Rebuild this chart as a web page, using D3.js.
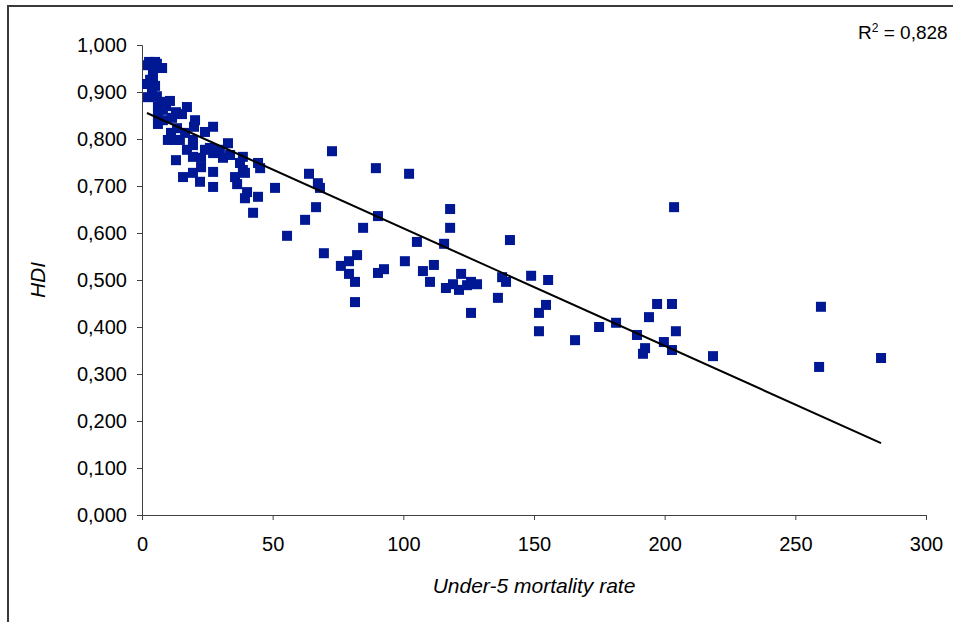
<!DOCTYPE html>
<html>
<head>
<meta charset="utf-8">
<script src="https://cdn.jsdelivr.net/npm/d3@7"></script>
<style>
  html, body { margin: 0; padding: 0; background: #fff; }
  svg { display: block; }
</style>
</head>
<body>
<svg id="chart" width="953" height="622"></svg>
<script>
// Under-5 mortality rate (per 1,000 live births) for each country
const mortality = [
  2.7, 5.0, 5.7, 7.7, 2.3, 4.2, 4.2, 3.1, 1.9, 5.0, 3.8, 2.3, 5.7, 6.1, 7.7, 10.7,
  9.2, 8.0, 17.2, 6.1, 6.1, 8.0, 11.5, 13.0, 15.3, 20.3, 19.9, 27.2, 24.1, 11.1,
  12.6, 14.5, 16.5, 9.9, 13.4, 19.5, 32.9, 24.1, 27.2, 29.8, 31.0, 17.2, 19.5,
  13.0, 19.5, 22.6, 22.6, 38.6, 37.5, 38.6, 44.4, 45.2, 15.7, 19.5, 22.2, 27.2,
  27.2, 35.6, 36.4, 39.4, 40.2, 39.4, 44.4, 42.5, 50.9, 33.7, 26.0,
  55.5, 62.4, 63.9, 66.6, 67.3, 68.1, 69.6, 72.7, 76.1, 79.2, 79.2, 81.5, 81.5,
  82.3, 84.6, 89.5, 90.3, 90.3, 92.6, 100.6, 102.2, 105.2, 107.5, 110.2, 111.7,
  115.6, 116.3, 117.9, 117.9, 119.0, 121.3, 122.1, 124.4, 125.9, 125.9, 128.2,
  136.2, 137.8, 139.3, 140.8, 148.9, 151.9, 151.9, 154.6, 155.4, 165.7, 174.9,
  181.4, 189.4, 191.7, 192.5, 194.0, 197.1, 199.7, 202.8, 202.8, 203.6, 204.3,
  218.5, 259.1, 259.8, 282.8
];

// Human Development Index for the same countries
const hdi = [
  0.964, 0.964, 0.960, 0.951, 0.957, 0.947, 0.934, 0.926, 0.917, 0.913, 0.900, 0.889, 0.891, 0.870, 0.879, 0.881,
  0.870, 0.862, 0.868, 0.851, 0.832, 0.840, 0.845, 0.857, 0.853, 0.840, 0.826, 0.826, 0.815, 0.813,
  0.798, 0.798, 0.813, 0.798, 0.823, 0.798, 0.791, 0.777, 0.770, 0.777, 0.760, 0.777, 0.787,
  0.755, 0.762, 0.760, 0.740, 0.762, 0.749, 0.734, 0.749, 0.738, 0.719, 0.728, 0.709, 0.730,
  0.698, 0.719, 0.704, 0.728, 0.687, 0.674, 0.677, 0.643, 0.696, 0.766, 0.781,
  0.594, 0.628, 0.726, 0.655, 0.706, 0.696, 0.557, 0.774, 0.530, 0.540, 0.513, 0.496, 0.453,
  0.553, 0.611, 0.738, 0.636, 0.515, 0.523, 0.540, 0.726, 0.581, 0.519, 0.496, 0.532,
  0.577, 0.483, 0.651, 0.611, 0.491, 0.479, 0.513, 0.489, 0.496, 0.430, 0.491,
  0.462, 0.506, 0.496, 0.585, 0.509, 0.430, 0.391, 0.447, 0.500, 0.372, 0.400,
  0.409, 0.383, 0.343, 0.355, 0.421, 0.449, 0.368, 0.351, 0.449, 0.655, 0.391,
  0.338, 0.315, 0.443, 0.334
];

// Linear trend: HDI = intercept + slope * mortality
const trendIntercept = 0.860;
const trendSlope = -0.0025;
const rSquaredText = "0,828";

const xTicks = [0, 50, 100, 150, 200, 250, 300];
const yTicks = [0, 0.1, 0.2, 0.3, 0.4, 0.5, 0.6, 0.7, 0.8, 0.9, 1.0];

const xTitle = "Under-5 mortality rate";
const yTitle = "HDI";

const svg = d3.select("#chart");
const font = "'Liberation Sans', Arial, sans-serif";
const fontSize = "20px";

const plot = { left: 142, right: 926, top: 45, bottom: 515 };

const x = d3.scaleLinear().domain([0, 300]).range([plot.left, plot.right]);
const y = d3.scaleLinear().domain([0, 1]).range([plot.bottom, plot.top]);

const locale = d3.formatLocale({ decimal: ",", thousands: ".", grouping: [3], currency: ["", ""] });
const fmtY = locale.format(".3f");

// Outer chart frame
svg.append("path")
  .attr("d", "M8,622 L8,6 L953,6")
  .attr("fill", "none")
  .attr("stroke", "#3a3a3a")
  .attr("stroke-width", 2);

// Axes
const yAxis = svg.append("g")
  .attr("transform", `translate(${plot.left},0)`)
  .call(d3.axisLeft(y).tickValues(yTicks).tickFormat(fmtY).tickSizeOuter(0).tickSize(5).tickPadding(10));
const xAxis = svg.append("g")
  .attr("transform", `translate(0,${plot.bottom})`)
  .call(d3.axisBottom(x).tickValues(xTicks).tickFormat(d3.format("d")).tickSizeOuter(0).tickSize(5).tickPadding(17));

[xAxis, yAxis].forEach(a => {
  a.select(".domain").attr("stroke", "#404040");
  a.selectAll(".tick line").attr("stroke", "#404040");
  a.selectAll(".tick text")
    .attr("fill", "#000")
    .style("font-family", font)
    .style("font-size", fontSize);
});

// Data points
const points = mortality.map((m, i) => ({ m, h: hdi[i] }));
const size = 10;
svg.append("g")
  .selectAll("rect")
  .data(points)
  .join("rect")
  .attr("x", d => x(d.m) - size / 2)
  .attr("y", d => y(d.h) - size / 2)
  .attr("width", size)
  .attr("height", size)
  .attr("fill", "#001893");

// Trend line over the data range
const ext = d3.extent(mortality);
svg.append("line")
  .attr("x1", x(ext[0]))
  .attr("y1", y(trendIntercept + trendSlope * ext[0]))
  .attr("x2", x(ext[1]))
  .attr("y2", y(trendIntercept + trendSlope * ext[1]))
  .attr("stroke", "#000")
  .attr("stroke-width", 2);

// R² annotation
const r2 = svg.append("text")
  .attr("x", 858)
  .attr("y", 39)
  .style("font-family", font)
  .style("font-size", "19px")
  .attr("fill", "#000");
r2.append("tspan").text("R");
r2.append("tspan").attr("dy", -7).style("font-size", "12px").text("2");
r2.append("tspan").attr("dy", 7).text(" = " + rSquaredText);

// Axis titles
svg.append("text")
  .attr("x", (plot.left + plot.right) / 2)
  .attr("y", 593)
  .attr("text-anchor", "middle")
  .style("font-family", font)
  .style("font-size", "21px")
  .style("font-style", "italic")
  .text(xTitle);

svg.append("text")
  .attr("transform", `translate(45,${(plot.top + plot.bottom) / 2}) rotate(-90)`)
  .attr("text-anchor", "middle")
  .style("font-family", font)
  .style("font-size", "21px")
  .style("font-style", "italic")
  .text(yTitle);
</script>
</body>
</html>
